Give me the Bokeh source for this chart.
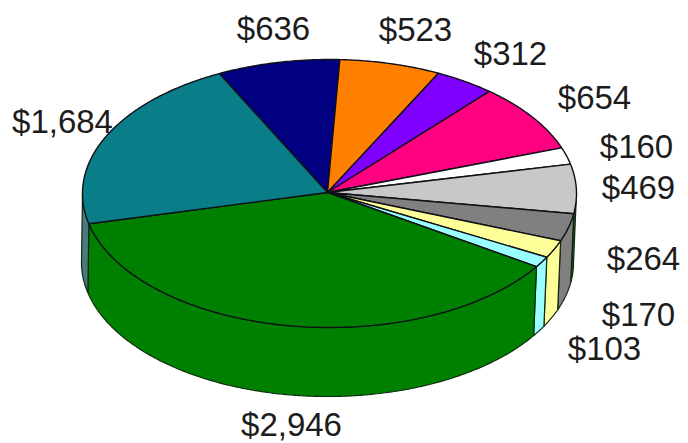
import numpy as np
from bokeh.core.properties import value
from bokeh.embed import file_html
from bokeh.models import ColumnDataSource, Range1d
from bokeh.plotting import figure
from bokeh.resources import INLINE

# Sales by segment, clockwise from the navy wedge
amounts = [636, 523, 312, 654, 160, 469, 264, 170, 103, 2946, 1684]
labels = ["$636", "$523", "$312", "$654", "$160", "$469", "$264", "$170", "$103", "$2,946", "$1,684"]
top_colors = ["#000080", "#ff8000", "#8000ff", "#ff0080", "#ffffff", "#c8c8c8",
              "#808080", "#ffff99", "#99ffff", "#008000", "#0a7e88"]
wall_colors = ["#000060", "#c06000", "#6000c0", "#c00060", "#c0c0c0", "#3a3a3a",
               "#808080", "#ffff99", "#99ffff", "#008000", "#4a7a80"]

# Placement of the value labels
label_x = [273, 415, 510, 594, 636, 638, 643, 638, 604, 291, 62]
label_y = [28, 29, 53, 97, 146, 187, 258, 314, 348, 424, 121]

# Tilted disc: ellipse of the top face and of the base, plus the apex of the wedges
TOP_CX, TOP_CY, TOP_RX, TOP_RY = 329, 193, 247, 134
BASE_CX, BASE_CY, BASE_RX, BASE_RY = 327, 262, 246, 134
APEX_X, APEX_Y = 327, 192
START_DEG = 116.5


def rim(cx, cy, rx, ry, a0, a1):
    t = np.radians(np.linspace(a0, a1, max(int(abs(a1 - a0) * 2), 2)))
    return cx + rx * np.cos(t), cy - ry * np.sin(t)


spans = np.array(amounts) / sum(amounts) * 360
starts = START_DEG - np.concatenate([[0], np.cumsum(spans)[:-1]])
ends = starts - spans

p = figure(width=688, height=443, output_backend="svg", toolbar_location=None,
           x_range=Range1d(0, 688), y_range=Range1d(443, 0),
           min_border=0, outline_line_color=None, background_fill_color="white")
p.axis.visible = False
p.grid.visible = False

# Labels sit underneath the disc; the $1,684 one tucks against its rim
src = ColumnDataSource(dict(x=label_x, y=label_y, t=labels))
p.text("x", "y", text="t", source=src, text_align="center", text_baseline="middle",
       text_font=value("Liberation Sans"), text_font_size="33px", text_color="#1c1c1c")

# Side walls: only the part of each wedge on the near half of the disc shows
wall_xs, wall_ys, wall_fill = [], [], []
for a0, a1, wall in zip(starts, ends, wall_colors):
    lo, hi = a1 % 360, a0 % 360
    if hi <= lo:
        hi += 360
    for shift in (0, 360):
        v0, v1 = max(lo + shift - 360, 180), min(hi + shift - 360, 360)
        if v1 > v0:
            tx, ty = rim(TOP_CX, TOP_CY, TOP_RX, TOP_RY, v0, v1)
            bx, by = rim(BASE_CX, BASE_CY, BASE_RX, BASE_RY, v1, v0)
            wall_xs.append(np.concatenate([tx, bx]))
            wall_ys.append(np.concatenate([ty, by]))
            wall_fill.append(wall)
p.patches(wall_xs, wall_ys, fill_color=wall_fill, line_color="#0c2a0c", line_width=1.2)

# Top face wedges
top_xs, top_ys = [], []
for a0, a1 in zip(starts, ends):
    ex, ey = rim(TOP_CX, TOP_CY, TOP_RX, TOP_RY, a0, a1)
    top_xs.append(np.concatenate([[APEX_X], ex]))
    top_ys.append(np.concatenate([[APEX_Y], ey]))
p.patches(top_xs, top_ys, fill_color=top_colors, line_color="#101018", line_width=1.4)

open("out.html", "w").write(file_html(p, INLINE))
